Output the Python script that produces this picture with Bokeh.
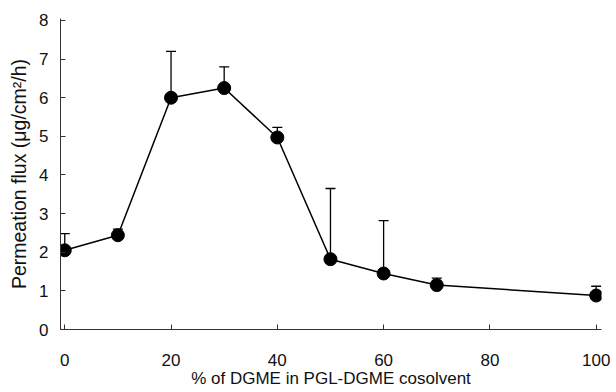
from bokeh.plotting import figure
from bokeh.models import ColumnDataSource, Whisker, TeeHead, Range1d, FixedTicker
from bokeh.embed import file_html
from bokeh.resources import INLINE

dgme_pct = [0, 10, 20, 30, 40, 50, 60, 70, 100]
flux = [2.05, 2.44, 6.0, 6.25, 4.97, 1.82, 1.45, 1.15, 0.88]
flux_sd = [0.43, 0.16, 1.2, 0.55, 0.26, 1.83, 1.37, 0.18, 0.24]
x_ticks = [0, 20, 40, 60, 80, 100]
y_ticks = [0, 1, 2, 3, 4, 5, 6, 7, 8]

upper = [f + s for f, s in zip(flux, flux_sd)]
src = ColumnDataSource(dict(x=dgme_pct, y=flux, upper=upper))

p = figure(width=610, height=390, output_backend="svg", toolbar_location=None,
           x_range=Range1d(-0.8, 101), y_range=Range1d(0, 8.05),
           min_border_left=60, min_border_right=9, min_border_top=18, min_border_bottom=61)
p.outline_line_color = None
p.grid.visible = False
p.background_fill_color = "white"

w = Whisker(source=src, base="x", lower="y", upper="upper", line_color="black", line_width=1.3,
            upper_head=TeeHead(size=10, line_color="black", line_width=1.3), lower_head=None)
p.add_layout(w)
p.line("x", "y", source=src, line_color="black", line_width=1.5)
p.scatter("x", "y", source=src, size=13, fill_color="black", line_color="black")

for ax in (p.xaxis, p.yaxis):
    ax.major_tick_in = 5
    ax.major_tick_out = 0
    ax.minor_tick_in = 0
    ax.minor_tick_out = 0
    ax.axis_line_color = "#333333"
    ax.major_tick_line_color = "#333333"
    ax.major_label_text_font = "Liberation Sans"
    ax.major_label_text_font_size = "17px"
    ax.major_label_text_color = "#111111"
    ax.axis_label_text_font = "Liberation Sans"
    ax.axis_label_text_font_style = "normal"
    ax.axis_label_text_color = "#111111"

p.xaxis.axis_label_text_font_size = "17px"
p.yaxis.axis_label_text_font_size = "19.5px"
p.xaxis.ticker = FixedTicker(ticks=x_ticks)
p.yaxis.ticker = FixedTicker(ticks=y_ticks)
p.xaxis.axis_label = "% of DGME in PGL-DGME cosolvent"
p.yaxis.axis_label = "Permeation flux (\u03bcg/cm\u00b2/h)"
p.xaxis.major_label_standoff = 24
p.yaxis.major_label_standoff = 12
p.xaxis.axis_label_standoff = 0
p.yaxis.axis_label_standoff = 6

open("out.html", "w").write(file_html(p, INLINE))
